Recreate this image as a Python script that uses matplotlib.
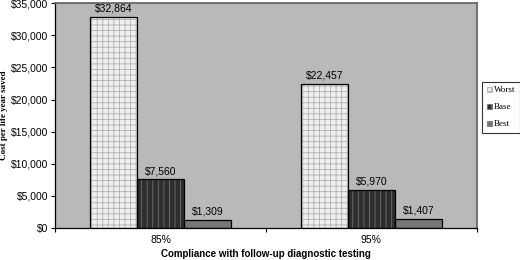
import numpy as np
import matplotlib.pyplot as plt
from matplotlib.ticker import FuncFormatter

categories = ['85%', '95%']
series = ['Worst', 'Base', 'Best']
worst = [32864, 22457]
base = [7560, 5970]
best = [1309, 1407]

faces = ['#efefef', '#2e2e2e', '#767676']
hatches = ['+++', '|||', '']
hatch_cols = ['#b0b0b0', '#707070', '#767676']

plt.rcParams['hatch.linewidth'] = 0.6

fig = plt.figure(figsize=(5.2, 2.6), dpi=100)
ax = fig.add_axes([0.106, 0.123, 0.811, 0.865])
ax.set_facecolor('#b9b9b9')

x = np.arange(len(categories))
w = 0.223
handles = []
for i, (name, vals) in enumerate(zip(series, [worst, base, best])):
    pos = x + (i - 1) * w
    # hatch pass, then outline pass
    ax.bar(pos, vals, w, color=faces[i], edgecolor=hatch_cols[i],
           hatch=hatches[i], linewidth=0, zorder=2)
    ax.bar(pos, vals, w, facecolor='none', edgecolor='black',
           linewidth=0.9, zorder=3)
    handles.append(plt.Rectangle((0, 0), 1, 1, facecolor=faces[i],
                                 edgecolor=hatch_cols[i], hatch=hatches[i],
                                 linewidth=0.6))
    for p, v in zip(pos, vals):
        ax.text(p, v + 500, f'${v:,}', ha='center', va='bottom',
                fontsize=7.5, family='Liberation Sans')

ax.set_xlim(-0.5, 1.5)
ax.set_ylim(0, 35000)
ax.set_yticks(np.arange(0, 35001, 5000))
ax.yaxis.set_major_formatter(FuncFormatter(lambda v, p: f'${int(v):,}'))
ax.set_xticks(x)
ax.set_xticklabels(categories)
ax.set_xticks([-0.5, 0.5, 1.5], minor=True)
ax.tick_params(axis='x', which='major', length=0, pad=5)
ax.tick_params(axis='x', which='minor', length=3, width=0.8)
ax.tick_params(axis='y', length=3, width=0.8, pad=2)
for lab in ax.get_xticklabels() + ax.get_yticklabels():
    lab.set_fontsize(7.5)
    lab.set_family('Liberation Sans')

for s in ['top', 'right']:
    ax.spines[s].set_color('#606060')
    ax.spines[s].set_linewidth(1.2)
ax.spines['left'].set_linewidth(0.9)
ax.spines['bottom'].set_linewidth(0.9)

ax.set_xlabel('Compliance with follow-up diagnostic testing', fontsize=7,
              fontweight='bold', family='Liberation Sans')
ax.xaxis.set_label_coords(0.5, -0.115)
ax.xaxis.label.set_va('center')
ax.set_ylabel('Cost per life year saved', fontsize=6.5, fontweight='bold',
              family='Liberation Serif')
ax.yaxis.set_label_coords(-0.112, 0.5)

leg = fig.legend(handles, series, loc='upper left',
                 bbox_to_anchor=(0.927, 0.685), frameon=True, fancybox=False,
                 prop={'family': 'Liberation Serif', 'size': 6.5},
                 handlelength=0.55, handleheight=0.55, handletextpad=0.3,
                 labelspacing=1.0, borderpad=0.5, borderaxespad=0)
leg.get_frame().set_edgecolor('black')
leg.get_frame().set_linewidth(0.8)

fig.savefig('out.png', dpi=100)
